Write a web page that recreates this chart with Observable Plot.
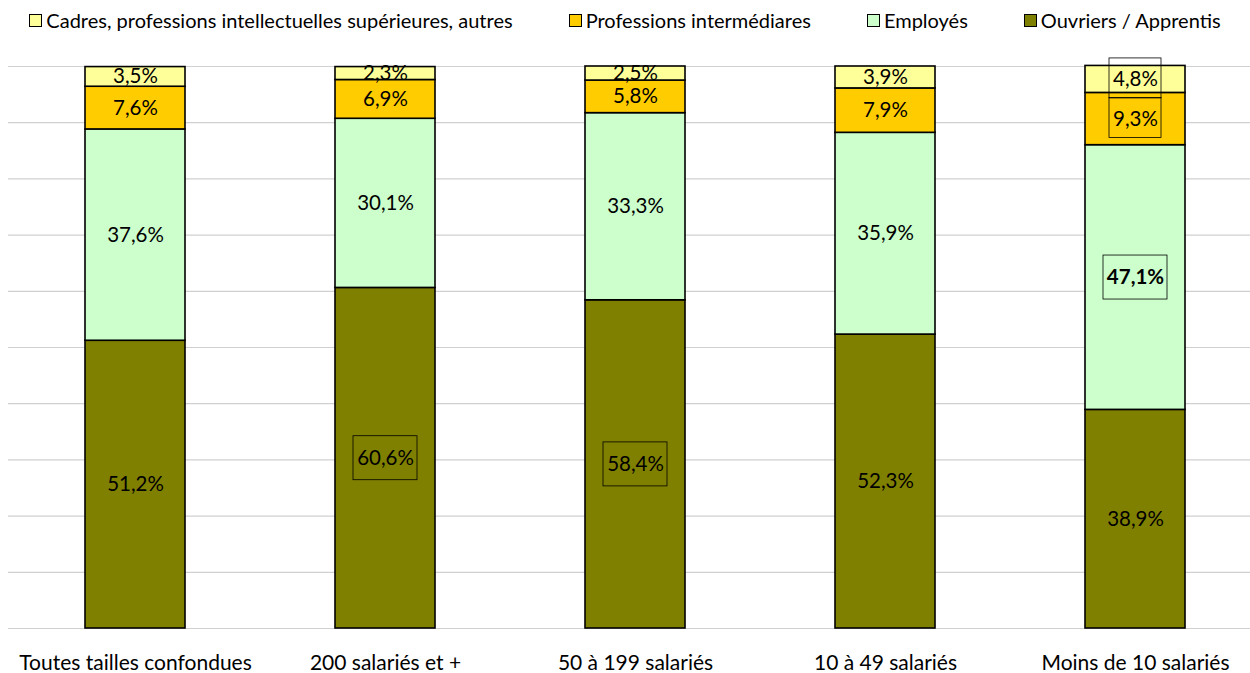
<!DOCTYPE html>
<html lang="fr">
<head>
<meta charset="utf-8">
<script src="https://cdn.jsdelivr.net/npm/d3@7"></script>
<script src="https://cdn.jsdelivr.net/npm/@observablehq/plot@0.6"></script>
<style>
  html, body { margin: 0; padding: 0; background: #fff; }
  body { width: 1250px; height: 673px; overflow: hidden; font-family: Lato, "Noto Sans", sans-serif; color: #000; }
  #legend { height: 40px; display: flex; justify-content: center; align-items: center; gap: 56px; font-size: 20px; }
  #legend .item { display: flex; align-items: center; gap: 4px; white-space: nowrap; }
  #legend .sw { width: 11px; height: 11px; border: 1.5px solid #000; }
  #chart svg { display: block; }
</style>
</head>
<body>
<div id="legend"></div>
<div id="chart"></div>
<script>
// Répartition des effectifs par catégorie socioprofessionnelle, selon la taille de l'entreprise
const categories = [
  "Toutes tailles confondues",
  "200 salariés et +",
  "50 à 199 salariés",
  "10 à 49 salariés",
  "Moins de 10 salariés"
];
const seriesNames = [
  "Cadres, professions intellectuelles supérieures, autres",
  "Professions intermédiares",
  "Employés",
  "Ouvriers / Apprentis"
];
const seriesColors = ["#ffff99", "#ffcc00", "#ccffcc", "#808000"];

const cadres      = [3.5, 2.3, 2.5, 3.9, 4.8];
const professions = [7.6, 6.9, 5.8, 7.9, 9.3];
const employes    = [37.6, 30.1, 33.3, 35.9, 47.1];
const ouvriers    = [51.2, 60.6, 58.4, 52.3, 38.9];

const yTicks = [0, 10, 20, 30, 40, 50, 60, 70, 80, 90, 100];

// Labels drawn inside a frame: [category, series]
const framedLabels = [
  ["200 salariés et +", "Ouvriers / Apprentis"],
  ["50 à 199 salariés", "Ouvriers / Apprentis"],
  ["Moins de 10 salariés", "Employés"],
  ["Moins de 10 salariés", "Cadres, professions intellectuelles supérieures, autres"],
  ["Moins de 10 salariés", "Professions intermédiares"]
];
const boldLabels = [["Moins de 10 salariés", "Employés"]];

// Stacking order, bottom to top
const stackOrder = [
  ["Ouvriers / Apprentis", ouvriers],
  ["Employés", employes],
  ["Professions intermédiares", professions],
  ["Cadres, professions intellectuelles supérieures, autres", cadres]
];

const rows = [];
categories.forEach((c, i) => {
  let base = 0;
  for (const [s, vals] of stackOrder) {
    const v = vals[i];
    const isIn = list => list.some(([lc, ls]) => lc === c && ls === s);
    rows.push({
      category: c, series: s, value: v,
      y1: base, y2: base + v, mid: base + v / 2,
      label: v.toFixed(1).replace(".", ",") + "%",
      framed: isIn(framedLabels),
      bold: isIn(boldLabels),
      thin: v < 10
    });
    base += v;
  }
});

// Legend
const legend = document.getElementById("legend");
seriesNames.forEach((name, i) => {
  const item = document.createElement("div");
  item.className = "item";
  const sw = document.createElement("span");
  sw.className = "sw";
  sw.style.background = seriesColors[i];
  const t = document.createElement("span");
  t.textContent = name;
  item.append(sw, t);
  legend.append(item);
});

const framed = rows.filter(d => d.framed);

const chart = Plot.plot({
  width: 1250,
  height: 633,
  marginTop: 26,
  marginBottom: 45,
  marginLeft: 8,
  marginRight: 0,
  style: { fontFamily: "Lato, 'Noto Sans', sans-serif", fontSize: "20px", color: "#000", background: "#fff" },
  x: { domain: categories, range: [8, 1262], paddingInner: 0.6, paddingOuter: 0.3, align: 0.5 },
  y: { domain: [0, 100], axis: null },
  color: { domain: seriesNames, range: seriesColors },
  marks: [
    Plot.ruleY(yTicks, { stroke: "#d0d0d0", strokeWidth: 1.2 }),
    Plot.barY(rows, {
      x: "category", y1: "y1", y2: "y2",
      fill: "series", stroke: "#000", strokeWidth: 1.6
    }),
    // frames around selected labels
    Plot.barY(framed.filter(d => !d.thin), {
      x: "category", y1: "mid", y2: "mid",
      insetTop: -22, insetBottom: -22, insetLeft: 18, insetRight: 18,
      fill: "none", stroke: "#000", strokeWidth: 0.8
    }),
    Plot.barY(framed.filter(d => d.thin), {
      x: "category", y1: "mid", y2: "mid",
      insetTop: -21, insetBottom: -19, insetLeft: 24, insetRight: 24,
      fill: "none", stroke: "#000", strokeWidth: 0.8
    }),
    Plot.text(rows.filter(d => !d.bold), {
      x: "category", y: "mid", text: "label",
      fill: "#000", fontSize: 20.5
    }),
    Plot.text(rows.filter(d => d.bold), {
      x: "category", y: "mid", text: "label",
      fill: "#000", fontSize: 20.5, fontWeight: "bold"
    }),
    Plot.axisX({ tickSize: 0, tickPadding: 27, fontSize: 21, label: null })
  ]
});
document.getElementById("chart").append(chart);
</script>
</body>
</html>
